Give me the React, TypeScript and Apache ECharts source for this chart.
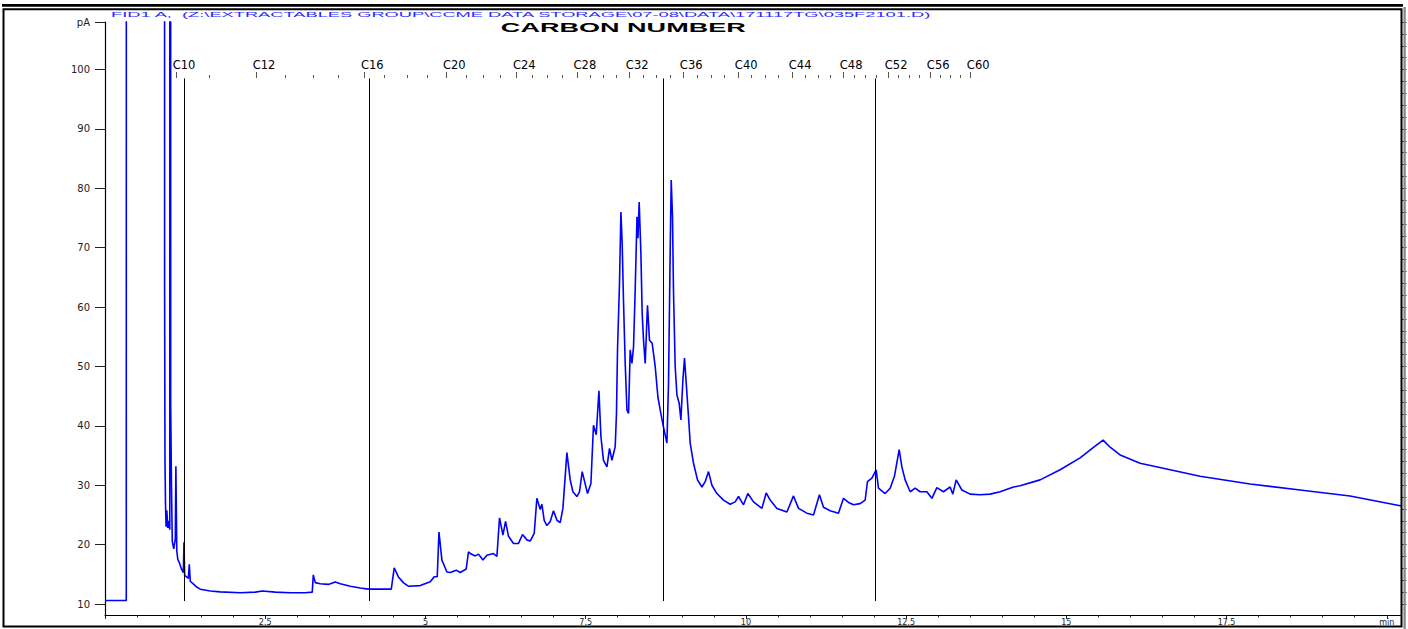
import React, { useEffect, useRef } from "react";
import * as echarts from "echarts";

// ---- chromatogram trace (retention time in min, signal in pA) ----
const TIME_MIN = [
  0.0, 0.332, 0.34, 0.922, 0.93, 0.936, 0.944, 0.953, 0.964, 0.98, 0.995, 1.011, 1.017, 1.025, 1.037, 1.05,
  1.073, 1.097, 1.106, 1.12, 1.136, 1.159, 1.19, 1.222, 1.232, 1.243, 1.268, 1.3, 1.315, 1.331, 1.378, 1.424,
  1.487, 1.643, 1.799, 2.111, 2.345, 2.454, 2.657, 2.891, 3.125, 3.234, 3.25, 3.281, 3.359, 3.484, 3.593, 3.671,
  3.827, 3.983, 4.108, 4.295, 4.467, 4.513, 4.576, 4.654, 4.732, 4.919, 5.075, 5.137, 5.184, 5.211, 5.257, 5.335,
  5.387, 5.48, 5.543, 5.636, 5.672, 5.699, 5.777, 5.828, 5.897, 5.959, 6.062, 6.115, 6.156, 6.209, 6.25, 6.296,
  6.374, 6.452, 6.515, 6.583, 6.635, 6.697, 6.739, 6.791, 6.817, 6.853, 6.895, 6.947, 6.998, 7.051, 7.103, 7.145,
  7.207, 7.259, 7.301, 7.363, 7.404, 7.446, 7.477, 7.529, 7.582, 7.622, 7.665, 7.707, 7.738, 7.778, 7.832, 7.872,
  7.91, 7.961, 7.981, 7.997, 8.028, 8.05, 8.07, 8.09, 8.117, 8.144, 8.169, 8.195, 8.222, 8.247, 8.273, 8.301,
  8.316, 8.335, 8.362, 8.382, 8.403, 8.429, 8.465, 8.496, 8.538, 8.585, 8.627, 8.663, 8.714, 8.768, 8.793, 8.819,
  8.835, 8.855, 8.87, 8.897, 8.924, 8.959, 8.986, 9.017, 9.042, 9.069, 9.105, 9.131, 9.183, 9.245, 9.314, 9.365,
  9.417, 9.47, 9.548, 9.651, 9.755, 9.833, 9.885, 9.963, 10.031, 10.119, 10.25, 10.317, 10.379, 10.484, 10.64, 10.743,
  10.821, 10.952, 11.055, 11.148, 11.211, 11.315, 11.445, 11.523, 11.601, 11.679, 11.783, 11.861, 11.897, 11.966, 12.033, 12.069,
  12.173, 12.251, 12.318, 12.392, 12.434, 12.485, 12.563, 12.641, 12.719, 12.824, 12.902, 12.98, 13.083, 13.187, 13.229, 13.281,
  13.37, 13.499, 13.655, 13.811, 13.967, 14.175, 14.279, 14.591, 14.903, 15.215, 15.449, 15.574, 15.683, 15.839, 16.151, 16.62,
  17.087, 17.867, 18.647, 19.427, 20.23,
];
const SIGNAL_PA = [
  10.6, 10.6, 1000, 1000, 63.8, 34.2, 27.0, 23.0, 25.8, 22.8, 24.0, 22.5, 1000, 43.5, 30.0, 20.5,
  19.3, 21.0, 33.2, 19.0, 17.5, 17.0, 16.0, 15.3, 20.4, 14.8, 14.6, 14.3, 16.7, 13.8, 13.4, 12.9,
  12.5, 12.2, 12.05, 11.9, 12.0, 12.2, 12.0, 11.9, 11.9, 12.0, 14.9, 13.6, 13.4, 13.3, 13.7, 13.4,
  13.0, 12.7, 12.5, 12.5, 12.5, 16.1, 14.6, 13.6, 13.0, 13.1, 13.75, 14.6, 14.6, 22.1, 17.4, 15.4,
  15.3, 15.7, 15.3, 15.9, 18.8, 18.5, 18.1, 18.4, 17.4, 18.2, 18.5, 18.0, 24.5, 21.6, 23.9, 21.4,
  20.2, 20.2, 21.7, 20.8, 20.6, 21.9, 27.8, 25.9, 26.8, 24.1, 23.2, 23.9, 25.7, 24.1, 23.7, 26.1,
  35.5, 30.9, 28.9, 28.1, 28.9, 32.3, 30.9, 28.6, 30.3, 40.1, 38.5, 45.9, 38.2, 34.2, 33.1, 36.2,
  34.2, 36.5, 42.1, 52.8, 64.0, 76.0, 70.7, 61.2, 50.5, 42.7, 42.1, 52.8, 50.5, 53.3, 62.9, 75.2,
  71.6, 77.7, 69.0, 58.9, 54.4, 50.5, 60.3, 54.4, 53.9, 50.0, 44.9, 42.7, 39.8, 37.1, 47.2, 69.6,
  81.4, 75.2, 62.9, 50.0, 45.2, 43.8, 41.0, 47.7, 51.4, 47.2, 41.5, 37.1, 33.7, 30.9, 29.7, 30.6,
  32.3, 30.0, 28.6, 27.5, 26.8, 27.2, 28.1, 26.7, 28.6, 27.2, 26.1, 28.7, 27.5, 26.1, 25.5, 28.2,
  26.1, 25.3, 25.0, 28.4, 26.3, 25.7, 25.3, 27.8, 27.1, 26.7, 26.9, 27.5, 30.6, 31.2, 32.6, 29.5,
  28.6, 29.5, 31.5, 36.0, 33.1, 30.9, 28.9, 29.5, 28.9, 28.9, 27.8, 29.6, 28.9, 29.7, 28.5, 30.9,
  29.2, 28.5, 28.4, 28.5, 28.9, 29.7, 29.9, 30.9, 32.6, 34.6, 36.6, 37.6, 36.4, 35.1, 33.7, 32.6,
  31.5, 30.2, 29.2, 28.2, 26.5,
];

// ---- carbon number scale (retention time of each n-alkane) ----
const CARBON_NUMBERS = [
  10, 11, 12, 13, 14, 15, 16, 17, 18, 19, 20, 21, 22, 23, 24, 25, 26, 27, 28, 29, 30, 31, 32, 33, 34,
  35, 36, 37, 38, 39, 40, 41, 42, 43, 44, 45, 46, 47, 48, 49, 50, 51, 52, 53, 54, 55, 56, 57, 58, 59, 60,
];
const CARBON_TIMES = [
  1.108, 1.632, 2.356, 2.813, 3.254, 3.644, 4.045, 4.357, 4.711, 5.023, 5.324, 5.632, 5.906, 6.167, 6.417,
  6.671, 6.905, 7.129, 7.363, 7.571, 7.774, 7.977, 8.179, 8.398, 8.601, 8.819, 9.022, 9.24, 9.459, 9.661,
  9.88, 10.083, 10.301, 10.504, 10.722, 10.925, 11.128, 11.315, 11.518, 11.69, 11.861, 12.033, 12.22, 12.376,
  12.548, 12.704, 12.876, 13.032, 13.188, 13.344, 13.5,
];
const CARBON_LABELLED = [10, 12, 16, 20, 24, 28, 32, 36, 40, 44, 48, 52, 56, 60];

// ---- fraction marker lines ----
const MARKER_TIMES = [1.229, 4.131, 8.71, 12.018];
const MARKER_TOP = 98.5;
const MARKER_BOTTOM = 10.5;

// ---- axes ----
const X_MAX = 20.23;
const Y_MIN = 8.15;
const Y_MAX = 108;
const X_LABEL_VALUES = [2.5, 5, 7.5, 10, 12.5, 15, 17.5, 20];
const Y_LABEL_VALUES = [10, 20, 30, 40, 50, 60, 70, 80, 90, 100, 108];

const TITLE = "FID1 A,\u00a0 (Z:\\EXTRACTABLES GROUP\\CCME DATA STORAGE\\07-08\\DATA\\171117TG\\035F2101.D)";
const SUBTITLE = "CARBON NUMBER";

const measure = (text: string, font: string) => {
  const ctx = document.createElement("canvas").getContext("2d");
  if (!ctx) return 1;
  ctx.font = font;
  return ctx.measureText(text).width || 1;
};

export default function App() {
  const ref = useRef<HTMLDivElement>(null);
  useEffect(() => {
    document.body.style.margin = "0";
    const chart = echarts.init(ref.current as HTMLDivElement, null, { renderer: "svg" });

    const xMajor = Array.from({ length: 9 }, (_, i) => i * 2.5);
    const xMinor = Array.from({ length: 41 }, (_, i) => i * 0.5);
    const yMinor = Array.from({ length: 50 }, (_, i) => 10 + i * 2);
    const carbonMajorTimes = CARBON_LABELLED.map((c) => CARBON_TIMES[CARBON_NUMBERS.indexOf(c)]);

    const titleFont = '8px "Liberation Sans"';
    const titleScale = 822 / measure(TITLE, titleFont);
    const subFont = 'bold 13px "Liberation Sans"';
    const subScale = 245 / measure(SUBTITLE, subFont);

    const labelFont = '"DejaVu Sans", "Liberation Sans", sans-serif';

    const option: any = {
      animation: false,
      backgroundColor: "#ffffff",
      grid: [
        { left: 105, right: 6.5, top: 22, bottom: 14 },
        { left: 105, right: 6.5, top: 78, height: 1 },
      ],
      xAxis: [
        {
          type: "value",
          gridIndex: 0,
          min: 0,
          max: X_MAX,
          position: "bottom",
          axisLine: { show: true, onZero: false, lineStyle: { color: "#000", width: 1.2 } },
          axisTick: { show: true, length: 4, customValues: xMajor, lineStyle: { color: "#222" } },
          axisLabel: {
            customValues: X_LABEL_VALUES,
            formatter: (v: number) => (v === 20 ? "min" : String(v)),
            margin: 3,
            fontSize: 8,
            lineHeight: 8,
            color: "#222",
            fontFamily: labelFont,
          },
          splitLine: { show: false },
        },
        {
          type: "value",
          gridIndex: 0,
          min: 0,
          max: X_MAX,
          position: "bottom",
          axisLine: { show: false, onZero: false },
          axisTick: { show: true, length: 2.5, customValues: xMinor, lineStyle: { color: "#222" } },
          axisLabel: { show: false },
          splitLine: { show: false },
        },
        {
          type: "value",
          gridIndex: 1,
          min: 0,
          max: X_MAX,
          position: "top",
          axisLine: { show: false, onZero: false },
          axisTick: { show: true, length: 3, customValues: CARBON_TIMES, lineStyle: { color: "#555" } },
          axisLabel: { show: false },
          splitLine: { show: false },
        },
        {
          type: "value",
          gridIndex: 1,
          min: 0,
          max: X_MAX,
          position: "top",
          axisLine: { show: false, onZero: false },
          axisTick: { show: true, length: 6, customValues: carbonMajorTimes, lineStyle: { color: "#555" } },
          axisLabel: {
            customValues: carbonMajorTimes,
            formatter: (v: number) => {
              const i = CARBON_TIMES.findIndex((t) => Math.abs(t - v) < 1e-6);
              return i >= 0 ? "C" + CARBON_NUMBERS[i] : "";
            },
            margin: 7,
            padding: [0, 0, 0, 16],
            fontSize: 11.5,
            color: "#000",
            fontFamily: labelFont,
          },
          splitLine: { show: false },
        },
      ],
      yAxis: [
        {
          type: "value",
          gridIndex: 0,
          min: Y_MIN,
          max: Y_MAX,
          axisLine: { show: true, onZero: false, lineStyle: { color: "#000", width: 1.2 } },
          axisTick: { show: true, length: 10, customValues: Y_LABEL_VALUES, lineStyle: { color: "#222" } },
          axisLabel: {
            customValues: Y_LABEL_VALUES,
            formatter: (v: number) => (v === 108 ? "pA" : String(v)),
            margin: 15,
            fontSize: 10,
            color: "#222",
            fontFamily: labelFont,
          },
          splitLine: { show: false },
        },
        {
          type: "value",
          gridIndex: 0,
          min: Y_MIN,
          max: Y_MAX,
          axisLine: { show: false, onZero: false },
          axisTick: { show: true, length: 5, customValues: yMinor, lineStyle: { color: "#222" } },
          axisLabel: { show: false },
          splitLine: { show: false },
        },
        { type: "value", gridIndex: 1, min: 0, max: 1, show: false },
      ],
      series: [
        {
          type: "line",
          xAxisIndex: 0,
          yAxisIndex: 0,
          data: TIME_MIN.map((t, i) => [t, SIGNAL_PA[i]]),
          showSymbol: false,
          symbol: "none",
          clip: true,
          lineStyle: { color: "#0000ff", width: 1.6 },
          itemStyle: { color: "#0000ff" },
          markLine: {
            silent: true,
            symbol: ["none", "none"],
            label: { show: false },
            lineStyle: { color: "#000", width: 1, type: "solid" },
            data: MARKER_TIMES.map((t) => [
              { coord: [t, MARKER_TOP] },
              { coord: [t, MARKER_BOTTOM] },
            ]),
          },
        },
      ],
      graphic: [
        {
          type: "text",
          x: 111,
          y: 14,
          scaleX: titleScale,
          style: {
            text: TITLE,
            font: titleFont,
            fill: "#2a2aff",
            align: "left",
            verticalAlign: "middle",
          },
          z: 10,
        },
        {
          type: "text",
          x: 623.3,
          y: 27.3,
          scaleX: subScale,
          style: {
            text: SUBTITLE,
            font: subFont,
            fill: "#000",
            align: "center",
            verticalAlign: "middle",
          },
          z: 10,
        },
        {
          type: "rect",
          shape: { x: 3.5, y: 9.2, width: 1398, height: 617.3 },
          style: { fill: "none", stroke: "#000", lineWidth: 2 },
          z: 20,
        },
        {
          type: "line",
          shape: { x1: 2, y1: 5.3, x2: 1403, y2: 5.3 },
          style: { stroke: "#000", lineWidth: 2.7 },
          z: 20,
        },
        {
          type: "line",
          shape: { x1: 1404.6, y1: 7, x2: 1404.6, y2: 629 },
          style: { stroke: "#8a8a8a", lineWidth: 2.4 },
          z: 20,
        },
      ],
    };

    chart.setOption(option);
    return () => chart.dispose();
  }, []);
  return <div ref={ref} style={{ width: 1408, height: 629 }} />;
}
